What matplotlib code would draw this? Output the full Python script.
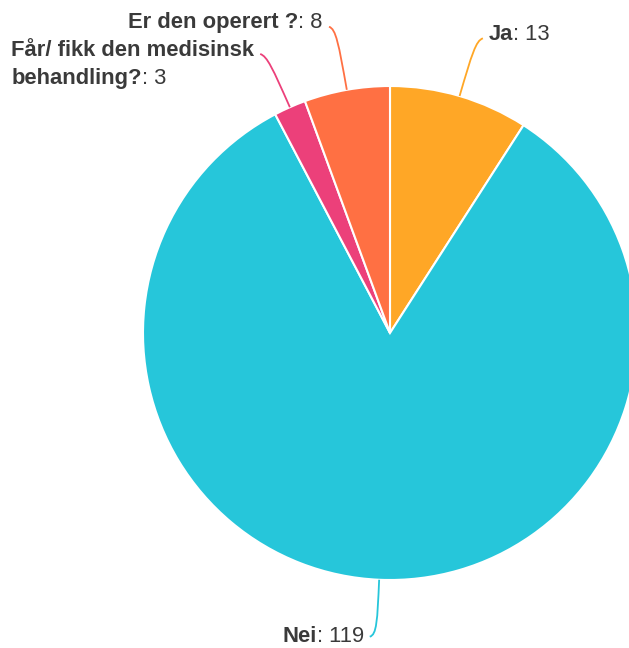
import matplotlib

matplotlib.use("Agg")
import matplotlib.pyplot as plt
import numpy as np
from matplotlib.patches import PathPatch
from matplotlib.path import Path

categories = ["Ja", "Nei", "Får/ fikk den medisinsk\nbehandling?", "Er den operert ?"]
values = [13, 119, 3, 8]
colors = ["#FFA726", "#26C6DA", "#EC407A", "#FF7043"]

W, H = 629, 648
CX, CY, R = 390, 333, 247
TEXT_COLOR = "#3a3a3a"
FONT = "Liberation Sans"
FS = 15.8

# distance of connector from pie edge, per slice (layout only)
label_dist = [58, 55, 56, 62]


def to_ax(x, y):
    return x, H - y


def mixed_label(ax, renderer, x, y, bold, normal, ha):
    # draws "bold: normal" with the first part in bold, anchored at (x, y)
    t1 = ax.text(0, 0, bold, fontsize=FS, fontweight="bold", family=FONT)
    t2 = ax.text(0, 0, normal, fontsize=FS, family=FONT)
    w1 = t1.get_window_extent(renderer).width
    w2 = t2.get_window_extent(renderer).width
    t1.remove()
    t2.remove()
    start = x if ha == "left" else x - w1 - w2
    ax.text(start, y, bold, fontsize=FS, fontweight="bold", family=FONT,
            color=TEXT_COLOR, va="center", ha="left")
    ax.text(start + w1, y, normal, fontsize=FS, family=FONT,
            color=TEXT_COLOR, va="center", ha="left")
    return w1 + w2


def main() -> None:
    fig = plt.figure(figsize=(W / 100, H / 100), dpi=100)
    ax = fig.add_axes([0, 0, 1, 1])
    ax.pie(
        values,
        colors=colors,
        startangle=90,
        counterclock=False,
        center=to_ax(CX, CY),
        radius=R,
        wedgeprops={"edgecolor": "white", "linewidth": 1.5},
        frame=True,
    )
    ax.set_xlim(0, W)
    ax.set_ylim(0, H)
    ax.set_aspect("equal")
    ax.axis("off")

    fig.canvas.draw()
    renderer = fig.canvas.get_renderer()

    total = sum(values)
    cum = np.cumsum([0] + values)
    for i, (name, val) in enumerate(zip(categories, values)):
        mid = (cum[i] + val / 2) / total * 2 * np.pi
        dx, dy = np.sin(mid), -np.cos(mid)
        x0, y0 = CX + R * dx, CY + R * dy
        xc, yc = CX + (R + label_dist[i]) * dx, CY + (R + label_dist[i]) * dy
        side = 1 if dx > 0 else -1
        up = dy < 0
        xe, ye = xc + side * 7, yc + (-2 if up else 2)
        verts = [
            to_ax(x0, y0),
            to_ax(x0 + 0.75 * (xc - x0), y0 + 0.75 * (yc - y0)),
            to_ax(xc, yc),
            to_ax(xe, ye),
        ]
        codes = [Path.MOVETO, Path.CURVE4, Path.CURVE4, Path.CURVE4]
        ax.add_patch(PathPatch(Path(verts, codes), fill=False,
                               edgecolor=colors[i], linewidth=1.3))

        lines = name.split("\n")
        tx = xe + side * 6
        ha = "left" if side > 0 else "right"
        ty = ye - 4 if up else ye
        if len(lines) == 1:
            mixed_label(ax, renderer, tx, H - ty, lines[0], f": {val}", ha)
        else:
            # multi-line label: block right-aligned to connector, text left-aligned
            w_last = mixed_label(ax, renderer, 0, -100, lines[-1], f": {val}", "left")
            probe = ax.text(0, 0, lines[0], fontsize=FS, fontweight="bold", family=FONT)
            w_first = probe.get_window_extent(renderer).width
            probe.remove()
            for t in list(ax.texts)[-2:]:
                t.remove()
            block_w = max(w_first, w_last)
            left = tx - block_w if side < 0 else tx
            ax.text(left, H - ty, lines[0], fontsize=FS, fontweight="bold",
                    family=FONT, color=TEXT_COLOR, va="center", ha="left")
            mixed_label(ax, renderer, left, H - ty - 28, lines[-1], f": {val}", "left")

    fig.savefig("out.png", dpi=100)
    plt.close(fig)


if __name__ == "__main__":
    main()
